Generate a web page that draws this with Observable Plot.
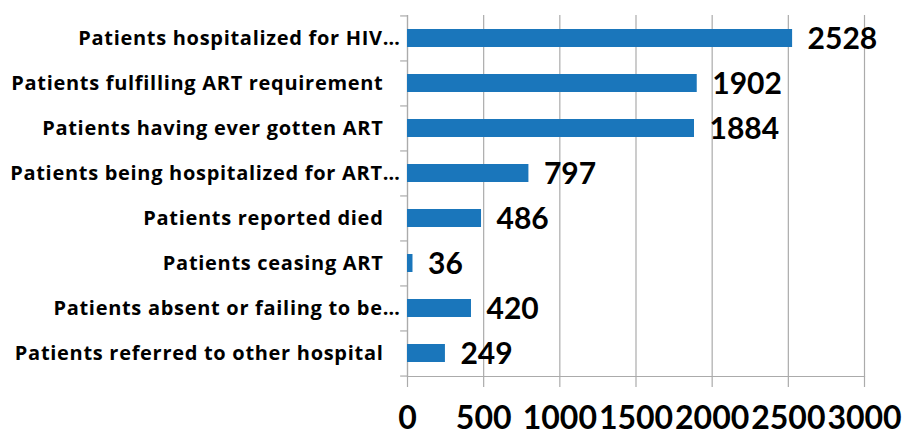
<!DOCTYPE html>
<html>
<head>
<meta charset="utf-8">
<script src="https://cdn.jsdelivr.net/npm/d3@7"></script>
<script src="https://cdn.jsdelivr.net/npm/@observablehq/plot@0.6"></script>
<style>
  html, body { margin: 0; padding: 0; background: #fff; }
  svg { font-family: Lato, "Open Sans", sans-serif; }
  g.cat-label text { letter-spacing: 0.7px; }
</style>
</head>
<body>
<div id="chart"></div>
<script>
const categories = [
  "Patients hospitalized for HIV…",
  "Patients fulfilling ART requirement",
  "Patients having ever gotten ART",
  "Patients being hospitalized for ART…",
  "Patients reported died",
  "Patients ceasing ART",
  "Patients absent or failing to be…",
  "Patients referred to other hospital"
];
const values = [2528, 1902, 1884, 797, 486, 36, 420, 249];
const xTicks = [0, 500, 1000, 1500, 2000, 2500, 3000];

const data = categories.map((c, i) => ({category: c, value: values[i]}));
const truncated = categories.filter(c => c.endsWith("…"));
const full = categories.filter(c => !c.endsWith("…"));

const gray = "#ababab";
const step = (435 - 15 - 59) / categories.length;
const labelFont = "'Open Sans', Lato, sans-serif";

const chart = Plot.plot({
  width: 904,
  height: 435,
  marginLeft: 407,
  marginRight: 40,
  marginTop: 15,
  marginBottom: 59,
  style: {fontFamily: "Lato, 'Open Sans', sans-serif", background: "#fff"},
  x: {domain: [0, 3000]},
  y: {domain: categories, paddingInner: 0.6, paddingOuter: 0.3},
  marks: [
    Plot.gridX(xTicks, {stroke: gray, strokeOpacity: 1, strokeWidth: 1.2}),
    Plot.frame({anchor: "bottom", stroke: gray, strokeWidth: 1.2}),
    Plot.frame({anchor: "left", stroke: gray, strokeWidth: 1.2}),
    Plot.ruleY(categories, {y: d => d, dy: -step / 2, x1: -45, x2: 0, stroke: gray, strokeWidth: 1.2, clip: false}),
    Plot.ruleY(categories.slice(-1), {y: d => d, dy: step / 2, x1: -45, x2: 0, stroke: gray, strokeWidth: 1.2, clip: false}),
    Plot.barX(data, {x: "value", y: "category", fill: "#1a76bb"}),
    Plot.text(data, {x: "value", y: "category", text: d => String(d.value), dx: 15, dy: 1, textAnchor: "start", fontSize: 30, fontWeight: "bold", fill: "#000"}),
    Plot.axisY(truncated, {tickSize: 0, tickPadding: 7, fontSize: 20, fontWeight: "bold", fontFamily: labelFont, fill: "#000", label: null, className: "cat-label"}),
    Plot.axisY(full, {tickSize: 0, tickPadding: 24, fontSize: 20, fontWeight: "bold", fontFamily: labelFont, fill: "#000", label: null, className: "cat-label"}),
    Plot.axisX(xTicks, {tickSize: 11, stroke: gray, strokeWidth: 1.2, tickPadding: 19, fontSize: 32, fontWeight: "bold", fill: "#000", label: null, tickFormat: d => String(d)})
  ]
});
document.getElementById("chart").appendChild(chart);
</script>
</body>
</html>
